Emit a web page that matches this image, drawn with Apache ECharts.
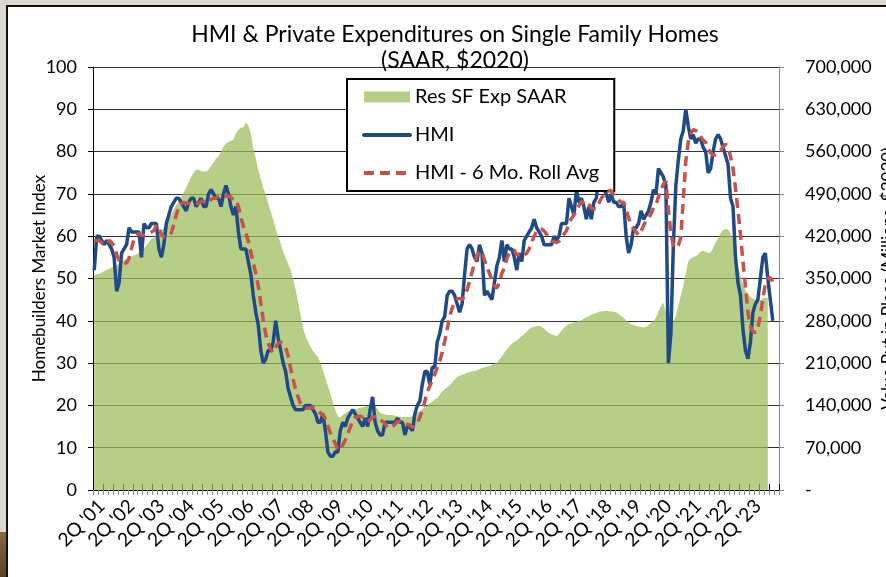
<!DOCTYPE html>
<html>
<head>
<meta charset="utf-8">
<script src="https://cdn.jsdelivr.net/npm/echarts@6/dist/echarts.min.js"></script>
<style>
html,body{margin:0;padding:0;background:#fff;}
#chart{width:886px;height:577px;}
</style>
</head>
<body>
<div id="chart"></div>
<script>
// ---------- DATA ----------
const monthNames = ['Jan','Feb','Mar','Apr','May','Jun','Jul','Aug','Sep','Oct','Nov','Dec'];
const years = [2001,2002,2003,2004,2005,2006,2007,2008,2009,2010,2011,2012,2013,2014,2015,2016,2017,2018,2019,2020,2021,2022,2023];
const categories = [];
years.forEach(y => monthNames.forEach(m => categories.push(m + ' ' + y)));

const xTickLabels = ["2Q '01","2Q '02","2Q '03","2Q '04","2Q '05","2Q '06","2Q '07","2Q '08","2Q '09","2Q '10","2Q '11","2Q '12",
  "2Q '13","2Q '14","2Q '15","2Q '16","2Q '17","2Q '18","2Q '19","2Q '20","2Q '21","2Q '22","2Q '23"];

// Res SF Exp SAAR (Millions, $2020), Jan 2001 - Aug 2023
const resSfExp = [
  355000,357000,358000,360000,362000,364000,366000,368000,370000,372000,375000,378000,
  380000,382000,384000,386000,388000,390000,393000,396000,400000,405000,410000,415000,
  418000,422000,426000,430000,435000,440000,448000,456000,464000,472000,478000,484000,
  492000,500000,510000,518000,525000,530000,530000,528000,527000,527000,530000,536000,
  542000,548000,552000,560000,568000,574000,576000,578000,580000,590000,596000,600000,
  600000,608000,603000,590000,565000,548000,530000,515000,500000,488000,474000,460000,
  448000,432000,420000,408000,395000,384000,374000,364000,350000,332000,312000,290000,
  268000,255000,245000,237000,230000,225000,220000,210000,198000,185000,172000,160000,
  145000,132000,122000,120000,124000,127000,130000,132000,133000,134000,135000,136000,
  137000,138000,139000,140000,141000,140000,134000,128000,126000,125000,124000,124000,
  124000,123000,122000,121000,121000,121000,121000,121000,122000,125000,128000,131000,
  134000,137000,140000,143000,146000,150000,152000,158000,163000,167000,170000,173000,
  178000,183000,187000,189000,191000,192000,194000,195000,196000,197000,198000,200000,
  202000,203000,204000,205000,207000,209000,211000,216000,221000,227000,233000,238000,
  242000,245000,247000,251000,255000,258000,262000,266000,269000,270000,271000,272000,
  270000,267000,263000,260000,258000,256000,255000,258000,264000,268000,272000,275000,
  276000,277000,278000,280000,281000,284000,286000,288000,290000,292000,293000,295000,
  296000,296000,297000,296000,296000,295000,294000,291000,288000,285000,281000,277000,
  274000,273000,272000,271000,270000,269000,270000,273000,276000,280000,285000,295000,
  305000,310000,295000,275000,270000,278000,288000,305000,322000,338000,360000,378000,
  383000,385000,387000,390000,395000,396000,394000,392000,393000,400000,410000,416000,
  425000,430000,432000,431000,425000,415000,395000,370000,355000,340000,330000,325000,
  320000,317000,315000,313000,314000,317000,318000,318000
];

// HMI, Jan 2001 - Oct 2023
const hmi = [
  52,60,60,59,58,59,58,57,55,47,49,56,
  57,58,62,61,61,61,61,55,63,62,62,63,
  63,63,57,55,58,63,65,67,68,69,69,68,
  67,66,68,69,69,67,68,69,67,67,70,71,
  70,69,69,67,70,72,70,67,65,67,61,57,
  57,57,54,51,46,42,39,33,30,31,33,33,
  35,40,36,33,30,28,24,22,20,19,19,19,
  19,20,20,20,19,18,16,16,18,14,9,8,
  8,9,9,14,16,15,17,18,19,18,17,16,
  15,17,15,19,22,16,14,13,13,16,16,16,
  16,16,17,16,16,13,15,15,14,18,20,21,
  25,28,28,25,29,29,35,37,40,41,46,47,
  47,46,44,42,44,51,57,58,57,55,54,58,
  56,46,47,46,45,49,53,55,59,54,58,57,
  57,55,52,56,54,59,60,61,62,64,62,61,
  60,58,58,58,58,60,59,60,63,63,63,69,
  67,65,71,68,69,67,64,67,64,68,69,74,
  72,71,70,68,70,68,68,67,67,68,60,56,
  58,62,62,63,66,64,65,66,68,71,70,76,
  75,74,72,30,37,58,72,78,83,85,90,86,
  83,84,82,83,83,81,80,75,76,80,83,84,
  83,81,79,77,69,67,55,49,46,38,33,31,
  35,42,44,45,50,55,56,50,45,40
];

// HMI - 6 Mo. Roll Avg, Jan 2001 - Oct 2023
const hmiRollAvg = [
  59,59,59,58.5,58,58.0,59.0,58.5,57.7,55.7,54.2,53.7,
  53.5,53.7,54.8,57.2,59.2,60.0,60.7,60.2,60.3,60.5,60.7,61.0,
  61.3,62.7,61.7,60.5,59.8,59.8,60.2,60.8,62.7,65.0,66.8,67.7,
  68.0,67.8,67.8,67.8,67.8,67.7,67.8,68.3,68.2,67.8,68.0,68.7,
  69.0,69.0,69.3,69.3,69.3,69.5,69.5,69.2,68.5,68.5,67.0,64.5,
  62.3,60.7,58.8,56.2,53.7,51.2,48.2,44.2,40.2,36.8,34.7,33.2,
  32.5,33.7,34.7,35.0,34.5,33.7,31.8,28.8,26.2,23.8,22.0,20.5,
  19.7,19.3,19.3,19.5,19.5,19.3,18.8,18.2,17.8,16.8,15.2,13.5,
  12.2,11.0,9.5,9.5,10.7,11.8,13.3,14.8,16.5,17.2,17.3,17.5,
  17.2,17.0,16.3,16.5,17.3,17.3,17.2,16.5,16.2,15.7,14.7,14.7,
  15.0,15.5,16.2,16.2,16.2,15.7,15.5,15.3,14.8,15.2,15.8,17.2,
  18.8,21.0,23.3,24.5,26.0,27.3,29.0,30.5,32.5,35.2,38.0,41.0,
  43.0,44.5,45.2,45.3,45.0,45.7,47.3,49.3,51.5,53.7,55.3,56.5,
  56.3,54.3,52.7,51.2,49.7,48.2,47.7,49.2,51.2,52.5,54.7,56.0,
  56.7,56.7,55.5,55.8,55.2,55.5,56.0,57.0,58.7,60.0,61.3,61.7,
  61.7,61.2,60.5,59.5,58.8,58.7,58.5,58.8,59.7,60.5,61.3,62.8,
  64.2,65.0,66.3,67.2,68.2,67.8,67.3,67.7,66.5,66.5,66.5,67.7,
  69.0,69.7,70.7,70.7,70.8,69.8,69.2,68.5,68.0,68.0,66.3,64.3,
  62.7,61.8,61.0,60.2,61.2,62.5,63.7,64.3,65.3,66.7,67.3,69.3,
  71.0,72.3,73.0,66.2,60.7,57.7,57.2,57.8,59.7,68.8,77.7,82.3,
  84.2,85.2,85.0,84.7,83.5,82.7,82.2,80.7,79.7,79.2,79.2,79.7,
  80.2,81.2,81.7,81.2,78.8,76.0,71.3,66.0,60.5,54.0,48.0,42.0,
  38.7,37.5,37.2,38.3,41.2,45.2,48.7,50.0,50.2,49.3
];

// ---------- CHART ----------
const FONT = 'Lato, "Open Sans", sans-serif';
const chart = echarts.init(document.getElementById('chart'), null, {renderer: 'canvas'});
const HIDDEN_SYMBOL = {color: 'rgba(0,0,0,0)', borderWidth: 0, opacity: 0};

const option = {
  animation: false,
  backgroundColor: '#ffffff',
  textStyle: {fontFamily: FONT, color: '#000'},
  grid: {left: 93, right: 107, top: 67, bottom: 87, containLabel: false, outerBoundsMode: 'none'},
  legend: {
    orient: 'vertical',
    left: 347,
    top: 79,
    padding: [8, 15, 8, 15],
    itemGap: 18,
    itemWidth: 46,
    itemHeight: 11,
    backgroundColor: '#ffffff',
    borderColor: '#000000',
    borderWidth: 2,
    textStyle: {fontFamily: FONT, fontSize: 20, color: '#000'},
    data: [
      {name: 'Res SF Exp SAAR', icon: 'rect', itemStyle: {color: '#b6cd86'}},
      {name: 'HMI', itemStyle: HIDDEN_SYMBOL, lineStyle: {color: '#1f4a86', width: 4, cap: 'round'}},
      {name: 'HMI - 6 Mo. Roll Avg', itemStyle: HIDDEN_SYMBOL, lineStyle: {color: '#c8504d', width: 4, type: [10, 6]}}
    ]
  },
  graphic: [
    {type: 'rect', shape: {x: 0, y: 0, width: 886, height: 5}, style: {fill: '#dcd9d3'}, z: 100},
    {type: 'rect', shape: {x: 0, y: 0, width: 6, height: 577}, style: {fill: '#dcd9d3'}, z: 100},
    {type: 'rect', shape: {x: 0, y: 532, width: 6, height: 45},
      style: {fill: new echarts.graphic.LinearGradient(0, 0, 0, 1, [{offset: 0, color: '#8a6a45'}, {offset: 1, color: '#5a3e22'}])}, z: 100},
    {type: 'rect', shape: {x: 6, y: 5, width: 880, height: 2}, style: {fill: '#111'}, z: 100},
    {type: 'rect', shape: {x: 6, y: 5, width: 2, height: 572}, style: {fill: '#111'}, z: 100},
    {type: 'text', x: 455, y: 35, z: 100,
      style: {text: 'HMI & Private Expenditures on Single Family Homes', font: '23px ' + FONT, fill: '#000', textAlign: 'center', textVerticalAlign: 'middle'}},
    {type: 'text', x: 455, y: 61, z: 100,
      style: {text: '(SAAR, $2020)', font: '23px ' + FONT, fill: '#000', textAlign: 'center', textVerticalAlign: 'middle'}}
  ],
  xAxis: [
    {
      type: 'category', data: categories, boundaryGap: true, position: 'bottom',
      axisLine: {lineStyle: {color: '#000', width: 1}},
      axisTick: {show: true, inside: true, length: 6, interval: (i) => i % 4 === 0, lineStyle: {color: '#000'}},
      axisLabel: {
        interval: (i) => i % 12 === 3,
        rotate: 45, fontSize: 19, color: '#000', margin: 13, fontFamily: FONT,
        formatter: (v, i) => xTickLabels[Math.round((i - 3) / 12)]
      },
      splitLine: {show: false}
    },
    {
      type: 'category', data: categories, boundaryGap: true, position: 'bottom',
      axisLine: {show: false},
      axisTick: {show: true, inside: false, length: 5, interval: (i) => i % 2 === 0, lineStyle: {color: '#8a8a8a'}},
      axisLabel: {show: false},
      splitLine: {show: false}
    }
  ],
  yAxis: [
    {
      type: 'value', min: 0, max: 100, interval: 10, position: 'left',
      name: 'Homebuilders Market Index', nameLocation: 'middle', nameGap: 45, nameRotate: 90, nameMoveOverlap: false,
      nameTextStyle: {fontSize: 17, color: '#000', fontFamily: FONT},
      axisLine: {show: true, lineStyle: {color: '#000', width: 1}},
      axisTick: {show: true, length: 5, lineStyle: {color: '#000'}},
      axisLabel: {fontSize: 18, color: '#000', margin: 16, fontFamily: FONT},
      splitLine: {show: true, lineStyle: {color: '#333', width: 1}}
    },
    {
      type: 'value', min: 0, max: 700000, interval: 70000, position: 'right',
      name: 'Value Put in Place (Millions, $2020)', nameLocation: 'middle', nameGap: 101, nameRotate: 90, nameMoveOverlap: false,
      nameTextStyle: {fontSize: 17, color: '#000', fontFamily: FONT},
      axisLine: {show: true, lineStyle: {color: '#8a8a8a', width: 1}},
      axisTick: {show: true, length: 5, lineStyle: {color: '#8a8a8a'}},
      axisLabel: {fontSize: 18, color: '#000', margin: 26, fontFamily: FONT,
        formatter: (v) => v === 0 ? '-' : v.toLocaleString('en-US')},
      splitLine: {show: false}
    }
  ],
  series: [
    {
      name: 'Res SF Exp SAAR', type: 'line', xAxisIndex: 0, yAxisIndex: 1, data: resSfExp,
      symbol: 'none', lineStyle: {width: 0}, itemStyle: {color: '#b6cd86'},
      areaStyle: {color: '#9bbb59', opacity: 0.72}, z: 1
    },
    {
      name: 'HMI', type: 'line', xAxisIndex: 0, yAxisIndex: 0, data: hmi,
      symbol: 'none', lineStyle: {color: '#1f4a86', width: 3.5}, itemStyle: {color: '#1f4a86'}, z: 3
    },
    {
      name: 'HMI - 6 Mo. Roll Avg', type: 'line', xAxisIndex: 0, yAxisIndex: 0, data: hmiRollAvg,
      symbol: 'none', lineStyle: {color: '#c8504d', width: 3.5, type: [10, 6]}, itemStyle: {color: '#c8504d'}, z: 4
    }
  ]
};
chart.setOption(option);
</script>
</body>
</html>
